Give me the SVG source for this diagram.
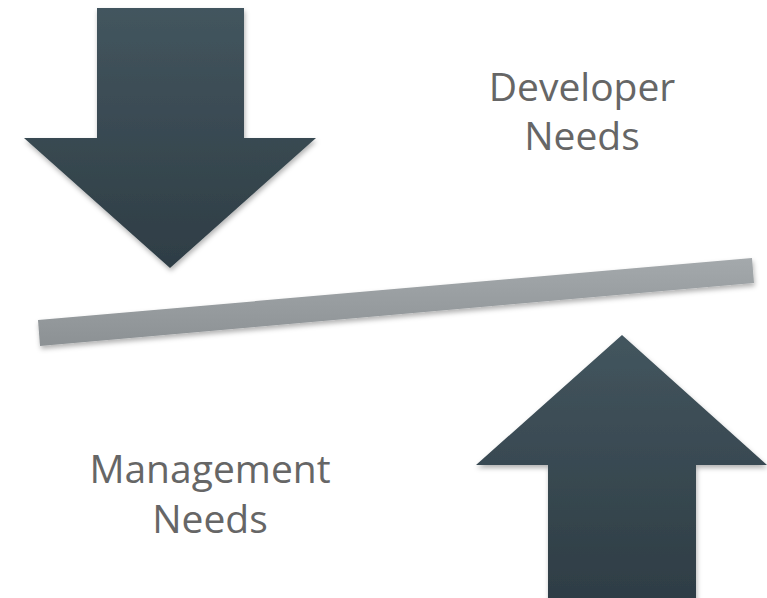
<svg xmlns="http://www.w3.org/2000/svg" width="767" height="598" viewBox="0 0 767 598">
<style>
.lbl{font-family:"Open Sans","Liberation Sans",sans-serif;font-size:39px;fill:#666666;text-anchor:middle}
</style>
<defs>
<linearGradient id="gDown" x1="0" y1="0" x2="0" y2="1">
<stop offset="0" stop-color="#43555e"/>
<stop offset="1" stop-color="#2e3d45"/>
</linearGradient>
<linearGradient id="gUp" x1="0" y1="0" x2="0" y2="1">
<stop offset="0" stop-color="#43555e"/>
<stop offset="1" stop-color="#2e3d45"/>
</linearGradient>
<linearGradient id="gBar" x1="0" y1="0" x2="0" y2="1">
<stop offset="0" stop-color="#a4a9ac"/>
<stop offset="1" stop-color="#8c9194"/>
</linearGradient>
<filter id="sh" x="-10%" y="-10%" width="120%" height="130%">
<feDropShadow dx="1" dy="3" stdDeviation="2.5" flood-color="#000" flood-opacity="0.3"/>
</filter>
</defs>
<g id="down-arrow">
<polygon points="97,8 244,8 244,138 316,138 170,268 24,138 97,138" fill="url(#gDown)" filter="url(#sh)"/>
</g>
<g id="balance-bar">
<polygon points="38,320 752,258 754,283 40,346" fill="url(#gBar)" filter="url(#sh)"/>
</g>
<g id="up-arrow">
<polygon points="622,335 767,465 696,465 696,600 548,600 548,465 476,465" fill="url(#gUp)" filter="url(#sh)"/>
</g>
<g id="developer-needs">
<text class="lbl" x="582" y="101">Developer</text>
<text class="lbl" x="582" y="150">Needs</text>
</g>
<g id="management-needs">
<text class="lbl" x="210" y="483">Management</text>
<text class="lbl" x="210" y="533">Needs</text>
</g>
<g id="connectors"/>
</svg>
